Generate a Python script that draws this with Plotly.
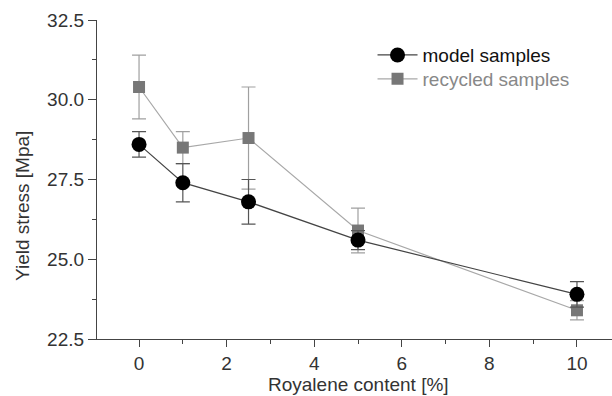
import plotly.graph_objects as go

content = [0, 1, 2.5, 5, 10]
model = [28.6, 27.4, 26.8, 25.6, 23.9]
model_err = [0.4, 0.6, 0.7, 0.3, 0.4]
recycled = [30.4, 28.5, 28.8, 25.9, 23.4]
recycled_err = [1.0, 0.5, 1.6, 0.7, 0.3]

fig = go.Figure()
fig.add_trace(go.Scatter(
    x=content, y=recycled, mode="lines+markers", name="recycled samples",
    line=dict(color="#a8a8a8", width=1.2),
    marker=dict(symbol="square", size=12, color="#777777"),
    error_y=dict(type="data", array=recycled_err, color="#a0a0a0", thickness=1.2, width=7),
    legend="legend2", showlegend=True,
))
fig.add_trace(go.Scatter(
    x=content, y=model, mode="lines+markers", name="model samples",
    line=dict(color="#444444", width=1.2),
    marker=dict(symbol="circle", size=15, color="#000000"),
    error_y=dict(type="data", array=model_err, color="#555555", thickness=1.2, width=7),
    legend="legend", showlegend=True,
))

FONT = "Liberation Sans, Arial, sans-serif"
axis_font = dict(family=FONT, size=19, color="#333333")
fig.update_layout(
    width=612, height=396,
    margin=dict(l=97, r=0, t=20, b=57),
    paper_bgcolor="white", plot_bgcolor="white",
    font=axis_font,
    showlegend=True,
    xaxis=dict(
        range=[-0.96, 10.8], tickvals=[0, 2, 4, 6, 8, 10],
        ticks="outside", ticklen=7, tickwidth=1.2, tickcolor="#444",
        showline=True, linecolor="#444", linewidth=1.2, showgrid=False, zeroline=False,
        minor=dict(dtick=1, ticks="outside", ticklen=4, tickcolor="#444", showgrid=False),
        tickfont=axis_font,
    ),
    yaxis=dict(
        range=[22.5, 32.5], tickvals=[22.5, 25.0, 27.5, 30.0, 32.5], tickformat=".1f",
        ticks="outside", ticklen=8, tickwidth=1.2, tickcolor="#444",
        showline=True, linecolor="#444", linewidth=1.2, showgrid=False, zeroline=False,
        minor=dict(dtick=1.25, tick0=22.5, ticks="outside", ticklen=4, tickcolor="#444", showgrid=False),
        tickfont=axis_font,
    ),
    annotations=[
        dict(text="Royalene content [%]", xref="paper", yref="paper", x=0.507, y=-0.144,
             xanchor="center", yanchor="middle", showarrow=False, font=axis_font),
        dict(text="Yield stress [Mpa]", xref="paper", yref="paper", x=-0.1437, y=0.417,
             xanchor="center", yanchor="middle", textangle=-90, showarrow=False, font=axis_font),
    ],
    legend=dict(x=0.535, y=0.89, xanchor="left", yanchor="middle", bgcolor="rgba(0,0,0,0)",
                font=dict(family=FONT, size=19, color="#111111"),
                itemwidth=40),
    legend2=dict(x=0.535, y=0.815, xanchor="left", yanchor="middle", bgcolor="rgba(0,0,0,0)",
                 font=dict(family=FONT, size=19, color="#888888"),
                 itemwidth=40),
)

fig.write_html("out.html")
